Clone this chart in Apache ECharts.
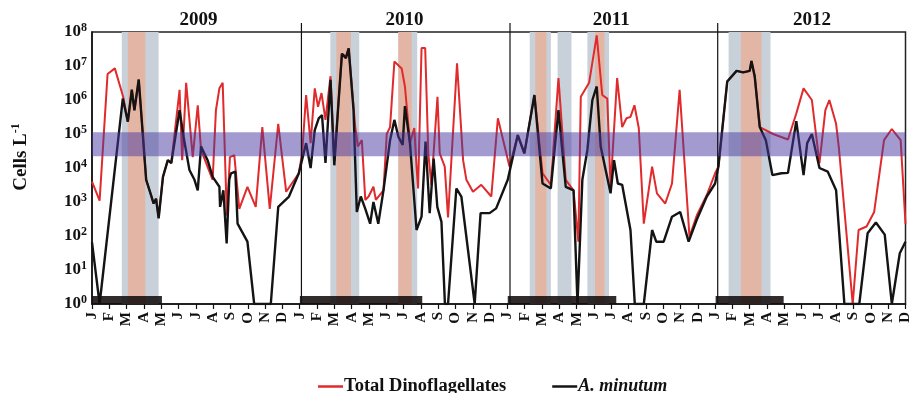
<!DOCTYPE html>
<html>
<head>
<meta charset="utf-8">
<script src="https://cdn.jsdelivr.net/npm/echarts@6/dist/echarts.min.js"></script>
<style>
  html, body { margin: 0; padding: 0; background: #fff; }
  #chart { width: 913px; height: 393px; }
</style>
</head>
<body>
<div id="chart"></div>
<script>
// month letters on the x axis, x is counted in months from Jan 2009
const months = ['J', 'F', 'M', 'A', 'M', 'J', 'J', 'A', 'S', 'O', 'N', 'D'];
const years = ['2009', '2010', '2011', '2012'];
const yearCenters = [6.15, 18.05, 30.0, 41.6];
const yearBreaks = [12.1, 24.15, 36.15];

// shaded periods [start, end] in months
const greyBands = [[1.72, 3.85], [13.77, 15.44], [17.7, 18.79], [25.29, 26.51], [26.9, 27.7], [28.62, 29.87], [36.78, 39.2]];
const salmonBands = [[2.07, 3.08], [14.12, 14.96], [17.7, 18.47], [25.61, 26.26], [29.06, 29.61], [37.49, 38.68]];
const blackBars = [[0, 4.04], [12.01, 19.08], [24.02, 30.29], [36.03, 39.96]];
// horizontal band, cells per litre
const thresholdBand = [22000, 112000];

// Total dinoflagellates
const redMonth = [0, 0.44, 0.9, 1.32, 1.8, 2.07, 2.3, 2.45, 2.7, 3.13, 3.41, 3.56, 3.7, 3.85, 4.1, 4.38, 4.58, 5.06, 5.21, 5.44,
  5.82, 6.11, 6.3, 6.97, 7.16, 7.36, 7.55, 7.79, 7.97, 8.22, 8.51, 8.98, 9.46, 9.84, 10.27, 10.76, 11.22, 11.95,
  12.14, 12.37, 12.63, 12.87, 13.06, 13.26, 13.49, 13.78, 14.0, 14.21, 14.44, 14.67, 14.83, 15.21, 15.36, 15.59, 15.79,
  15.98, 16.26, 16.4, 16.84, 17.03, 17.22, 17.47, 17.89, 18.08, 18.37, 18.62, 18.75, 18.84, 19.04, 19.25, 19.43, 19.61,
  19.96, 20.09, 20.38, 20.57, 21.09, 21.44, 21.63, 22.01, 22.49, 23.07, 23.45,
  24.12, 24.6, 24.98, 25.56, 26.03, 26.51, 26.95, 27.37, 27.82, 28.1, 28.24, 28.72, 29.16, 29.48, 29.77, 29.96, 30.34,
  30.63, 30.88, 31.11, 31.34, 31.59, 31.88, 32.36, 32.64, 33.12, 33.51, 33.95, 34.52, 34.94, 35.52, 36.0,
  36.19, 36.7, 37.24, 37.62, 38.0, 38.1, 38.29, 38.58, 39.35, 40.21, 40.69, 41.11, 41.59, 42.03, 42.37, 42.6, 42.99,
  43.15, 43.95, 44.29, 44.75, 45.19, 45.76, 46.21, 46.72, 47];
const redCells = [4000, 1100, 5800000, 8500000, 1250000, 230000, 2000000, 500000, 4000000, 4500, 1600, 900, 1250, 350, 5500, 17000, 14000, 2000000, 17000, 3200000,
  21000, 700000, 34000, 4500, 500000, 2200000, 3200000, 400, 21000, 24000, 630, 2800, 720, 160000, 630, 200000, 2000, 7000,
  27000, 1400000, 54000, 2200000, 630000, 1600000, 260000, 5000000, 16000, 500000, 23000000, 19000000, 33000000, 160000, 43000, 66000, 1150,
  1450, 2800, 1150, 2200, 100000, 160000, 13500000, 8500000, 2500000, 54000, 150000, 11000, 2500, 34000000, 34000000, 27000, 3200,
  1250000, 27000, 11000, 350, 12000000, 17000, 4500, 2000, 3200, 1450, 290000,
  11000, 93000, 27000, 1400000, 7000, 3200, 4400000, 4500, 2200, 68, 1250000, 3200000, 80000000, 1400000, 1100000, 2800, 4400000,
  160000, 290000, 320000, 700000, 150000, 230, 11000, 1800, 900, 3500, 2000000, 95, 400, 1600, 7000,
  11000, 3500000, 7200000, 6500000, 7200000, 14000000, 4900000, 160000, 100000, 69000, 400000, 2200000, 1000000, 14000, 500000, 1000000, 200000,
  40000, 1, 150, 190, 510, 66000, 140000, 66000, 230];

// A. minutum
const blackMonth = [0, 0.44, 1.78, 2.07, 2.3, 2.45, 2.7, 3.13, 3.41, 3.56, 3.7, 3.85, 4.1, 4.38, 4.58, 5.06, 5.29, 5.63, 5.92, 6.11,
  6.3, 6.68, 6.97, 7.36, 7.4, 7.59, 7.78, 7.93, 8.03, 8.28, 8.41, 8.98, 9.37, 10.33, 10.76, 11.38, 11.95,
  12.37, 12.63, 12.87, 13.1, 13.29, 13.49, 13.78, 14.0, 14.21, 14.44, 14.67, 14.83, 15.11, 15.3, 15.53, 15.79, 16.07, 16.26,
  16.54, 16.84, 17.22, 17.47, 17.7, 17.95, 18.08, 18.37, 18.75, 19.04, 19.27, 19.51, 19.74, 19.95, 20.19, 20.39, 20.57,
  21.05, 21.34, 22.11, 22.45, 22.97, 23.35, 24.02,
  24.6, 24.98, 25.56, 26.03, 26.51, 26.95, 27.37, 27.82, 28.05, 28.33, 28.62, 28.91, 29.16, 29.39, 29.96, 30.16, 30.38,
  30.63, 31.11, 31.36, 31.88, 32.36, 32.6, 33.03, 33.51, 33.98, 34.47, 34.94, 35.52, 36.0,
  36.19, 36.7, 37.24, 37.62, 38.0, 38.1, 38.29, 38.58, 38.93, 39.31, 39.83, 40.21, 40.69, 41.11, 41.32, 41.59, 42.03,
  42.51, 42.99, 43.47, 44.33, 44.81, 45.29, 45.8, 46.21, 46.67, 47];
const blackCells = [65, 1, 1100000, 230000, 2000000, 500000, 4000000, 4500, 1600, 900, 1250, 330, 5500, 17000, 14000, 500000, 83000, 8700, 4500, 2200,
  43000, 17000, 5500, 2800, 720, 2200, 60, 4500, 7000, 7800, 230, 68, 1, 1, 720, 1450, 7000,
  54000, 10000, 130000, 290000, 360000, 14000, 3900000, 12000, 500000, 23000000, 17000000, 33000000, 500000, 510, 1450, 630, 230, 1000,
  230, 2200, 66000, 260000, 83000, 48000, 660000, 54000, 150, 370, 60000, 470, 19000, 720, 260, 1, 1,
  2500, 1450, 1, 470, 470, 650, 4500,
  93000, 27000, 1400000, 3500, 2500, 500000, 2800, 2200, 1, 4500, 34000, 1000000, 2500000, 43000, 1800, 17000, 3500,
  3200, 150, 1, 1, 150, 68, 68, 370, 510, 68, 300, 1450, 3500,
  11000, 3500000, 7200000, 6500000, 7200000, 14000000, 4900000, 160000, 66000, 6200, 7000, 7200, 240000, 6200, 54000, 100000, 10000,
  7800, 2200, 1, 1, 120, 250, 110, 1, 31, 68];

const serif = '"Liberation Serif", "Times New Roman", serif';

const myChart = echarts.init(document.getElementById('chart'));

function bandRender(color) {
  return function (params, api) {
    const a = api.coord([api.value(0), 1e8]);
    const b = api.coord([api.value(1), 1]);
    return {
      type: 'rect',
      shape: { x: a[0], y: a[1], width: b[0] - a[0], height: b[1] - a[1] },
      style: { fill: color }
    };
  };
}

const option = {
  animation: false,
  grid: {
    left: 92, right: 2, top: 32, bottom: 89,
    show: true, borderColor: '#222', borderWidth: 1.5
  },
  legend: {
    left: 313, top: 372,
    icon: 'rect', itemWidth: 25, itemHeight: 2.5, itemGap: 46,
    data: ['Total Dinoflagellates', 'A. minutum'],
    formatter: (name) => (name === 'A. minutum' ? '{i|' + name + '}' : '{b|' + name + '}'),
    textStyle: {
      padding: [0, 0, 0, -4],
      rich: {
        b: { fontFamily: serif, fontWeight: 'bold', fontSize: 18.5, color: '#111' },
        i: { fontFamily: serif, fontWeight: 'bold', fontStyle: 'italic', fontSize: 18, color: '#111' }
      }
    }
  },
  xAxis: {
    type: 'value',
    min: 0, max: 47, interval: 1,
    splitLine: { show: false },
    axisLine: { lineStyle: { color: '#111', width: 1.5 } },
    axisTick: { length: 5, lineStyle: { color: '#111', width: 1.2 } },
    axisLabel: {
      rotate: 90, margin: 8,
      fontFamily: serif, fontWeight: 'bold', fontSize: 15, color: '#111',
      formatter: (v) => months[Math.round(v) % 12]
    }
  },
  yAxis: {
    type: 'log', logBase: 10,
    min: 1, max: 1e8, splitNumber: 8,
    splitLine: { show: false },
    axisTick: { show: false },
    axisLine: { show: true, lineStyle: { color: '#111', width: 1.5 } },
    axisLabel: {
      margin: 5,
      formatter: (v) => '{b|10}{s|' + Math.round(Math.log10(v)) + '}',
      rich: {
        b: { fontFamily: serif, fontWeight: 'bold', fontSize: 17, color: '#111' },
        s: { fontFamily: serif, fontWeight: 'bold', fontSize: 12, color: '#111', padding: [0, 0, 9, 0] }
      }
    },
    name: '{a|Cells L}{s|-1}',
    nameLocation: 'middle', nameRotate: 90, nameGap: 60,
    nameTextStyle: {
      padding: [0, 0, 0, 22],
      rich: {
        a: { fontFamily: serif, fontWeight: 'bold', fontSize: 19, color: '#111' },
        s: { fontFamily: serif, fontWeight: 'bold', fontSize: 12, color: '#111', padding: [0, 0, 10, 0] }
      }
    }
  },
  series: [
    {
      type: 'custom', z: 1, silent: true,
      data: greyBands,
      renderItem: bandRender('#c8d1d9')
    },
    {
      type: 'custom', z: 1, silent: true,
      data: salmonBands,
      renderItem: bandRender('#e3b5a4')
    },
    {
      name: 'Total Dinoflagellates',
      type: 'line', z: 3,
      showSymbol: false,
      color: '#e02a2b',
      lineStyle: { width: 2, color: '#e02a2b' },
      data: redMonth.map((m, i) => [m, redCells[i]])
    },
    {
      name: 'A. minutum',
      type: 'line', z: 4,
      showSymbol: false,
      color: '#141414',
      lineStyle: { width: 2.4, color: '#141414' },
      data: blackMonth.map((m, i) => [m, blackCells[i]])
    },
    {
      // black bars along the bottom
      type: 'custom', z: 5, silent: true,
      data: blackBars,
      renderItem: (params, api) => {
        const a = api.coord([api.value(0), 1]);
        const b = api.coord([api.value(1), 1]);
        return {
          type: 'rect',
          shape: { x: a[0], y: a[1] - 8, width: b[0] - a[0], height: 8 },
          style: { fill: 'rgba(20,14,14,0.88)' }
        };
      }
    },
    {
      // horizontal band
      type: 'custom', z: 6, silent: true,
      data: [[0, thresholdBand[0], thresholdBand[1]]],
      renderItem: (params, api) => {
        const cs = params.coordSys;
        const lo = api.coord([0, api.value(1)]);
        const hi = api.coord([0, api.value(2)]);
        return {
          type: 'rect',
          shape: { x: cs.x, y: hi[1], width: cs.width, height: lo[1] - hi[1] },
          style: { fill: 'rgba(72,55,160,0.5)' }
        };
      }
    },
    {
      // year separators
      type: 'custom', z: 7, silent: true, clip: false,
      data: yearBreaks.map((m) => [m, 1]),
      renderItem: (params, api) => {
        const p = api.coord([api.value(0), 1]);
        return {
          type: 'line',
          shape: { x1: p[0], y1: p[1], x2: p[0], y2: params.coordSys.y - 9 },
          style: { stroke: '#111', lineWidth: 1.2 }
        };
      }
    },
    {
      // year labels
      type: 'custom', z: 7, silent: true, clip: false,
      data: yearCenters.map((m) => [m, 1e8]),
      renderItem: (params, api) => {
        const p = api.coord([api.value(0), api.value(1)]);
        return {
          type: 'text',
          x: p[0], y: p[1] - 12,
          style: {
            text: years[params.dataIndex],
            fontFamily: serif, fontWeight: 'bold', fontSize: 19, fill: '#111',
            align: 'center', verticalAlign: 'middle'
          }
        };
      }
    }
  ]
};

myChart.setOption(option);
</script>
</body>
</html>
